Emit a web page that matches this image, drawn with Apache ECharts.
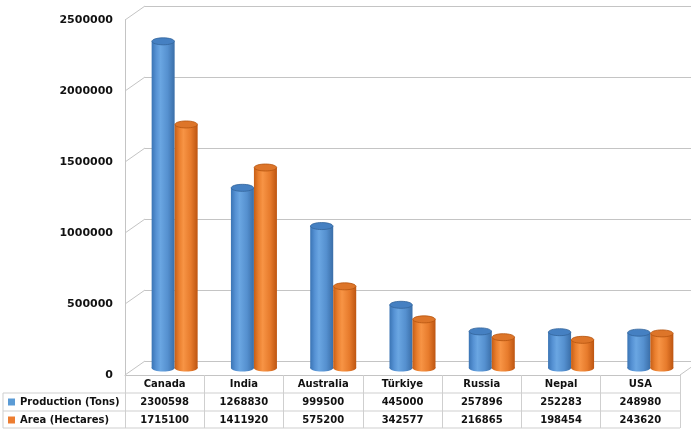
<!DOCTYPE html>
<html>
<head>
<meta charset="utf-8">
<script src="https://cdn.jsdelivr.net/npm/echarts@6/dist/echarts.min.js"></script>
<style>
  html, body { margin: 0; padding: 0; background: #fff; }
  #chart { width: 691px; height: 434px; }
</style>
</head>
<body>
<div id="chart"></div>
<script>
var categories = ['Canada', 'India', 'Australia', 'Türkiye', 'Russia', 'Nepal', 'USA'];
var production = [2300598, 1268830, 999500, 445000, 257896, 252283, 248980];
var area = [1715100, 1411920, 575200, 342577, 216865, 198454, 243620];
var seriesNames = ['Production (Tons)', 'Area (Hectares)'];
var yTicks = [0, 500000, 1000000, 1500000, 2000000, 2500000];

var FONT = 'DejaVu Sans';
var GRID_LINE = '#c4c4c4';
var TABLE_LINE = '#cfcfcf';
var DEPTH_X = 20, DEPTH_Y = 14;
var BAR_W = 23;

var chart = echarts.init(document.getElementById('chart'), null, { renderer: 'canvas' });

var palettes = [
  { body: ['#3a74b4', '#5692d4', '#6aa6e2', '#5590cf', '#3a6ea8'], cap: '#4580c2', capStroke: '#33649b', legend: '#5b9bd5' },
  { body: ['#c75e16', '#ea7f2e', '#f79445', '#e77b2c', '#bd5511'], cap: '#dd7529', capStroke: '#b5540f', legend: '#ed7d31' }
];

function cylinder(which) {
  var pal = palettes[which];
  return function (params, api) {
    var idx = api.value(0), v = api.value(1);
    var top = api.coord([idx, v]);
    var base = api.coord([idx, 0]);
    var cx = top[0] + (which === 0 ? -BAR_W / 2 : BAR_W / 2);
    var rx = BAR_W / 2, ry = 3.5;
    var grad = new echarts.graphic.LinearGradient(0, 0, 1, 0, [
      { offset: 0, color: pal.body[0] },
      { offset: 0.2, color: pal.body[1] },
      { offset: 0.38, color: pal.body[2] },
      { offset: 0.7, color: pal.body[3] },
      { offset: 1, color: pal.body[4] }
    ]);
    return {
      type: 'group',
      children: [
        { type: 'ellipse', shape: { cx: cx, cy: base[1], rx: rx, ry: ry }, style: { fill: grad } },
        { type: 'rect', shape: { x: cx - rx, y: top[1], width: BAR_W, height: base[1] - top[1] }, style: { fill: grad } },
        { type: 'ellipse', shape: { cx: cx, cy: top[1], rx: rx - 0.3, ry: ry }, style: { fill: pal.cap, stroke: pal.capStroke, lineWidth: 0.8 } }
      ]
    };
  };
}

function connectors(params, api) {
  var cs = params.coordSys;
  var v = api.value(0);
  var y = api.coord([0, v])[1];
  var children = [
    { type: 'line', shape: { x1: cs.x, y1: y, x2: cs.x + DEPTH_X, y2: y - DEPTH_Y }, style: { stroke: GRID_LINE, lineWidth: 1 } }
  ];
  if (v === yTicks[0]) {
    children.push({ type: 'line', shape: { x1: cs.x + cs.width, y1: y, x2: cs.x + cs.width + DEPTH_X, y2: y - DEPTH_Y }, style: { stroke: GRID_LINE, lineWidth: 1 } });
  }
  return { type: 'group', children: children };
}

var yMin = yTicks[0], yMax = yTicks[yTicks.length - 1], yInt = yTicks[1] - yTicks[0];

var tableTop = 375, rowH = 18, tableLeft = 3, tableRight = 680;

var option = {
  backgroundColor: '#ffffff',
  animation: false,
  legend: {
    data: seriesNames,
    orient: 'vertical',
    left: 8,
    top: tableTop + rowH + 3,
    width: 120,
    height: 40,
    padding: 0,
    itemWidth: 7,
    itemHeight: 7,
    itemGap: 6,
    icon: 'rect',
    textStyle: { fontFamily: FONT, fontWeight: 'bold', fontSize: 10, color: '#111', lineHeight: 12 }
  },
  grid: [
    { left: 145, right: 0, top: 6, bottom: 434 - 361 },
    { left: 125, right: 691 - tableRight, top: 20, bottom: 434 - tableTop },
    { left: 135, right: 1, top: 13, bottom: 434 - 368 }
  ],
  xAxis: [
    { gridIndex: 0, type: 'category', data: categories, show: false },
    {
      gridIndex: 1, type: 'category', data: categories,
      axisLine: { show: true, lineStyle: { color: GRID_LINE } },
      axisTick: { show: true, length: rowH * 3 - 1, lineStyle: { color: TABLE_LINE } },
      axisLabel: {
        margin: 0,
        interval: 0,
        formatter: function (val, i) {
          return '{h|' + val + '}\n{v|' + production[i] + '}\n{v|' + area[i] + '}';
        },
        rich: {
          h: { fontFamily: FONT, fontWeight: 'bold', fontSize: 10, color: '#111', lineHeight: rowH },
          v: { fontFamily: FONT, fontWeight: 'bold', fontSize: 10, color: '#111', lineHeight: rowH }
        }
      }
    },
    { gridIndex: 2, type: 'category', data: categories, show: false }
  ],
  yAxis: [
    {
      gridIndex: 0, type: 'value', min: yMin, max: yMax, interval: yInt,
      axisLabel: { show: false }, axisLine: { show: false }, axisTick: { show: false },
      splitLine: { show: true, lineStyle: { color: GRID_LINE, width: 1 } }
    },
    {
      gridIndex: 1, type: 'value', min: yMin, max: yMax, interval: yInt,
      axisLine: { show: true, lineStyle: { color: GRID_LINE } },
      axisTick: { show: false },
      splitLine: { show: false },
      axisLabel: {
        margin: 12,
        fontFamily: FONT, fontWeight: 'bold', fontSize: 11, color: '#111',
        formatter: function (v) { return String(v); }
      }
    },
    { gridIndex: 2, type: 'value', min: yMin, max: yMax, interval: yInt, show: false }
  ],
  series: [
    {
      type: 'custom', name: 'depth', xAxisIndex: 1, yAxisIndex: 1,
      data: yTicks.map(function (v) { return [v]; }),
      encode: { y: 0 },
      renderItem: connectors, silent: true, z: 1
    },
    {
      type: 'custom', name: seriesNames[0], xAxisIndex: 2, yAxisIndex: 2,
      itemStyle: { color: palettes[0].legend },
      data: production.map(function (v, i) { return [i, v]; }),
      encode: { x: 0, y: 1 },
      renderItem: cylinder(0), z: 3
    },
    {
      type: 'custom', name: seriesNames[1], xAxisIndex: 2, yAxisIndex: 2,
      itemStyle: { color: palettes[1].legend },
      data: area.map(function (v, i) { return [i, v]; }),
      encode: { x: 0, y: 1 },
      renderItem: cylinder(1), z: 4
    }
  ],
  graphic: [
    { type: 'line', shape: { x1: tableLeft, y1: tableTop + rowH, x2: tableRight, y2: tableTop + rowH }, style: { stroke: TABLE_LINE, lineWidth: 1 } },
    { type: 'line', shape: { x1: tableLeft, y1: tableTop + rowH * 2, x2: tableRight, y2: tableTop + rowH * 2 }, style: { stroke: TABLE_LINE, lineWidth: 1 } },
    { type: 'line', shape: { x1: tableLeft, y1: tableTop + rowH * 3 - 1, x2: tableRight, y2: tableTop + rowH * 3 - 1 }, style: { stroke: TABLE_LINE, lineWidth: 1 } },
    { type: 'line', shape: { x1: tableLeft, y1: tableTop + rowH, x2: tableLeft, y2: tableTop + rowH * 3 - 1 }, style: { stroke: TABLE_LINE, lineWidth: 1 } }
  ]
};

chart.setOption(option);
</script>
</body>
</html>
